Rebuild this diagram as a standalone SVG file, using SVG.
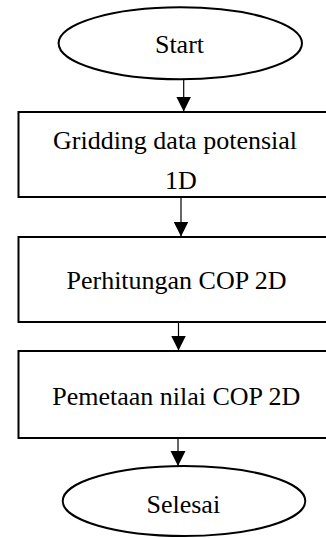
<svg xmlns="http://www.w3.org/2000/svg" width="326" height="538" viewBox="0 0 326 538">
<style>
.shape{fill:#fff;stroke:#000;stroke-width:2}
.lbl{font-family:"Liberation Serif","Times New Roman",serif;font-size:26px;fill:#000;text-anchor:middle}
.conn{stroke:#000;stroke-width:1.2;fill:none}
</style>
<defs>
<marker id="arr" markerUnits="userSpaceOnUse" markerWidth="16" markerHeight="16" refX="15" refY="7.5" orient="auto">
<path d="M0,0 L15,7.5 L0,15 z" fill="#000"/>
</marker>
</defs>
<rect width="326" height="538" fill="#fff"/>
<g id="start">
<ellipse class="shape" cx="180.3" cy="43.3" rx="121.7" ry="36"/>
<text class="lbl" x="179.5" y="53">Start</text>
</g>
<g id="gridding">
<rect class="shape" x="18.5" y="112" width="320" height="85"/>
<text class="lbl" x="175" y="149">Gridding data potensial</text>
<text class="lbl" x="181" y="189">1D</text>
</g>
<g id="perhitungan">
<rect class="shape" x="18.5" y="237" width="320" height="85"/>
<text class="lbl" x="176.5" y="289">Perhitungan COP 2D</text>
</g>
<g id="pemetaan">
<rect class="shape" x="18.5" y="351" width="320" height="87"/>
<text class="lbl" x="176.3" y="405">Pemetaan nilai COP 2D</text>
</g>
<g id="selesai">
<ellipse class="shape" cx="184" cy="501" rx="121.3" ry="35"/>
<text class="lbl" x="183.3" y="513">Selesai</text>
</g>
<g id="connectors">
<path class="conn" d="M183.7,79.5 V111.5" marker-end="url(#arr)"/>
<path class="conn" d="M181,197 V236.5" marker-end="url(#arr)"/>
<path class="conn" d="M178.5,322 V350.5" marker-end="url(#arr)"/>
<path class="conn" d="M178,438 V466" marker-end="url(#arr)"/>
</g>
</svg>
